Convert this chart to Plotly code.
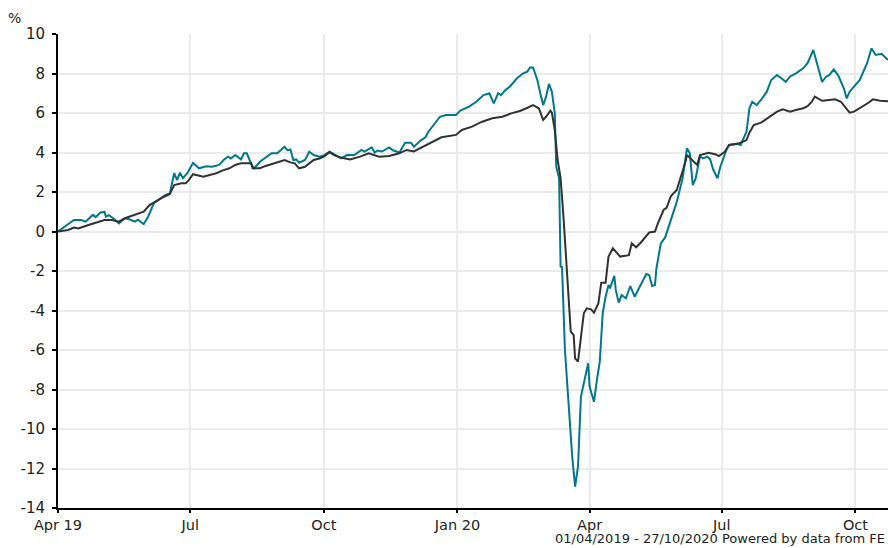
import plotly.graph_objects as go

# Teal series (fund) - cumulative % change
teal_dates = [
    "2019-04-01", "2019-04-12", "2019-04-17", "2019-04-20", "2019-04-25", "2019-04-27", "2019-04-30",
    "2019-05-03", "2019-05-04", "2019-05-06", "2019-05-09", "2019-05-13", "2019-05-17", "2019-05-20",
    "2019-05-24", "2019-05-26", "2019-05-30", "2019-06-02", "2019-06-06", "2019-06-11", "2019-06-14",
    "2019-06-17", "2019-06-20", "2019-06-22", "2019-06-24", "2019-06-26", "2019-06-29", "2019-07-03",
    "2019-07-07", "2019-07-12", "2019-07-16", "2019-07-21", "2019-07-24", "2019-07-27", "2019-07-29",
    "2019-08-01", "2019-08-05", "2019-08-07", "2019-08-09", "2019-08-12", "2019-08-14", "2019-08-18",
    "2019-08-21", "2019-08-26", "2019-08-30", "2019-09-04", "2019-09-06", "2019-09-08", "2019-09-10",
    "2019-09-12", "2019-09-14", "2019-09-18", "2019-09-21", "2019-09-24", "2019-09-28", "2019-10-01",
    "2019-10-05", "2019-10-09", "2019-10-13", "2019-10-17", "2019-10-22", "2019-10-27", "2019-10-29",
    "2019-11-03", "2019-11-05", "2019-11-07", "2019-11-10", "2019-11-15", "2019-11-18", "2019-11-22",
    "2019-11-26", "2019-11-30", "2019-12-02", "2019-12-07", "2019-12-10", "2019-12-12", "2019-12-17",
    "2019-12-20", "2019-12-24", "2019-12-31", "2020-01-03", "2020-01-09", "2020-01-14", "2020-01-19",
    "2020-01-23", "2020-01-25", "2020-01-26", "2020-01-29", "2020-01-31", "2020-02-03", "2020-02-06",
    "2020-02-11", "2020-02-15", "2020-02-18", "2020-02-20", "2020-02-22", "2020-02-25", "2020-02-27",
    "2020-02-29", "2020-03-02", "2020-03-04", "2020-03-06", "2020-03-08", "2020-03-09", "2020-03-11",
    "2020-03-12", "2020-03-13", "2020-03-15", "2020-03-19", "2020-03-20", "2020-03-22", "2020-03-24",
    "2020-03-26", "2020-03-28", "2020-03-31", "2020-04-01", "2020-04-04", "2020-04-06", "2020-04-08",
    "2020-04-10", "2020-04-12", "2020-04-14", "2020-04-15", "2020-04-18", "2020-04-19", "2020-04-21",
    "2020-04-23", "2020-04-26", "2020-04-29", "2020-05-02", "2020-05-05", "2020-05-07", "2020-05-10",
    "2020-05-12", "2020-05-14", "2020-05-16", "2020-05-17", "2020-05-20", "2020-05-23", "2020-05-27",
    "2020-05-31", "2020-06-04", "2020-06-06", "2020-06-07", "2020-06-09", "2020-06-11", "2020-06-13",
    "2020-06-16", "2020-06-18", "2020-06-21", "2020-06-23", "2020-06-25", "2020-06-28", "2020-06-30",
    "2020-07-04", "2020-07-06", "2020-07-12", "2020-07-14", "2020-07-18", "2020-07-20", "2020-07-22",
    "2020-07-25", "2020-07-28", "2020-08-01", "2020-08-04", "2020-08-08", "2020-08-11", "2020-08-14",
    "2020-08-17", "2020-08-21", "2020-08-26", "2020-08-29", "2020-09-02", "2020-09-05", "2020-09-08",
    "2020-09-11", "2020-09-13", "2020-09-16", "2020-09-19", "2020-09-23", "2020-09-25", "2020-09-27",
    "2020-09-30", "2020-10-04", "2020-10-09", "2020-10-12", "2020-10-15", "2020-10-19", "2020-10-23",
    "2020-10-27",
]
teal_values = [
    0.0, 0.58, 0.58, 0.5, 0.84, 0.73, 0.95,
    1.0, 0.75, 0.83, 0.67, 0.41, 0.67, 0.62,
    0.5, 0.6, 0.38, 0.75, 1.43, 1.68, 1.85,
    1.93, 2.95, 2.6, 2.98, 2.7, 2.95, 3.48,
    3.2, 3.3, 3.28, 3.37, 3.62, 3.79, 3.7,
    3.87, 3.65, 3.96, 3.96, 3.42, 3.2, 3.53,
    3.7, 3.96, 3.96, 4.29, 4.12, 4.15, 3.62,
    3.65, 3.48, 3.62, 4.04, 3.87, 3.79, 3.85,
    4.04, 3.87, 3.7, 3.87, 3.87, 4.13, 4.05,
    4.26, 4.0, 4.1, 4.05, 4.26, 4.1, 4.0,
    4.5, 4.5, 4.29, 4.63, 4.77, 5.05, 5.56,
    5.81, 5.9, 5.9, 6.12, 6.32, 6.57, 6.91,
    7.0, 6.66, 6.49, 7.0, 6.9, 7.16, 7.33,
    7.76, 8.0, 8.09, 8.31, 8.31, 7.67, 7.0,
    6.4, 6.83, 7.47, 7.08, 6.0, 3.28, 2.69,
    -1.78, -1.8, -6.0, -10.81, -11.4, -12.92, -11.9,
    -8.36, -7.69, -6.67, -7.86, -8.62, -7.52, -6.59,
    -4.14, -3.3, -2.71, -2.88, -2.25, -2.96, -3.6,
    -3.22, -3.38, -2.76, -3.3, -2.88, -2.62, -2.15,
    -2.2, -2.76, -2.71, -1.86, -0.6, -0.3, 0.6,
    1.5, 2.69, 3.62, 4.21, 3.96, 2.35, 2.69,
    3.82, 3.7, 3.79, 3.65, 3.15, 2.69, 3.28,
    4.1, 4.38, 4.43, 4.38, 5.05, 6.24, 6.57,
    6.4, 6.66, 7.08, 7.67, 7.92, 7.76, 7.58,
    7.85, 8.01, 8.26, 8.52, 9.19, 8.35, 7.58,
    7.85, 7.92, 8.21, 7.92, 7.25, 6.74, 7.08,
    7.33, 7.67, 8.52, 9.27, 8.94, 9.0, 8.72,
    8.6,
]

# Dark grey series (sector/benchmark)
dark_dates = [
    "2019-04-01", "2019-04-08", "2019-04-12", "2019-04-15", "2019-04-22", "2019-04-29", "2019-05-03",
    "2019-05-08", "2019-05-13", "2019-05-17", "2019-05-24", "2019-05-30", "2019-06-03", "2019-06-09",
    "2019-06-13", "2019-06-17", "2019-06-20", "2019-06-25", "2019-06-28", "2019-06-30", "2019-07-03",
    "2019-07-10", "2019-07-14", "2019-07-19", "2019-07-23", "2019-07-28", "2019-08-01", "2019-08-05",
    "2019-08-08", "2019-08-12", "2019-08-13", "2019-08-18", "2019-08-22", "2019-08-27", "2019-08-31",
    "2019-09-04", "2019-09-08", "2019-09-11", "2019-09-14", "2019-09-18", "2019-09-21", "2019-09-24",
    "2019-09-28", "2019-10-01", "2019-10-05", "2019-10-08", "2019-10-12", "2019-10-19", "2019-10-26",
    "2019-11-01", "2019-11-08", "2019-11-15", "2019-11-22", "2019-11-27", "2019-12-02", "2019-12-08",
    "2019-12-15", "2019-12-21", "2019-12-31", "2020-01-04", "2020-01-11", "2020-01-18", "2020-01-25",
    "2020-02-01", "2020-02-07", "2020-02-13", "2020-02-19", "2020-02-22", "2020-02-26", "2020-02-29",
    "2020-03-02", "2020-03-05", "2020-03-06", "2020-03-08", "2020-03-10", "2020-03-12", "2020-03-14",
    "2020-03-16", "2020-03-19", "2020-03-21", "2020-03-22", "2020-03-24", "2020-03-26", "2020-03-28",
    "2020-03-30", "2020-04-02", "2020-04-04", "2020-04-07", "2020-04-09", "2020-04-12", "2020-04-14",
    "2020-04-17", "2020-04-22", "2020-04-28", "2020-04-30", "2020-05-03", "2020-05-06", "2020-05-12",
    "2020-05-16", "2020-05-18", "2020-05-22", "2020-05-24", "2020-05-26", "2020-05-27", "2020-05-31",
    "2020-06-03", "2020-06-06", "2020-06-07", "2020-06-11", "2020-06-14", "2020-06-16", "2020-06-22",
    "2020-06-27", "2020-06-29", "2020-07-03", "2020-07-06", "2020-07-13", "2020-07-18", "2020-07-20",
    "2020-07-23", "2020-07-28", "2020-08-02", "2020-08-08", "2020-08-12", "2020-08-17", "2020-08-21",
    "2020-08-26", "2020-08-29", "2020-09-01", "2020-09-03", "2020-09-06", "2020-09-08", "2020-09-13",
    "2020-09-17", "2020-09-21", "2020-09-25", "2020-09-27", "2020-09-30", "2020-10-05", "2020-10-10",
    "2020-10-13", "2020-10-18", "2020-10-23", "2020-10-27",
]
dark_values = [
    0.0, 0.08, 0.2, 0.15, 0.33, 0.5, 0.58,
    0.58, 0.5, 0.67, 0.84, 1.0, 1.34, 1.6,
    1.76, 1.9, 2.35, 2.44, 2.44, 2.6, 2.9,
    2.77, 2.86, 2.95, 3.08, 3.2, 3.37, 3.45,
    3.45, 3.45, 3.2, 3.2, 3.32, 3.45, 3.53,
    3.62, 3.5, 3.45, 3.2, 3.28, 3.45, 3.62,
    3.7, 3.79, 4.02, 3.87, 3.76, 3.65, 3.79,
    3.96, 3.79, 3.82, 3.96, 4.13, 4.05, 4.29,
    4.55, 4.77, 4.89, 5.14, 5.31, 5.56, 5.73,
    5.81, 5.98, 6.1, 6.29, 6.4, 6.24, 5.65,
    5.81, 6.12, 6.02, 5.14, 3.62, 2.7, 0.75,
    -1.44, -5.07, -5.24, -6.42, -6.59, -5.33, -4.14,
    -3.89, -3.94, -4.11, -3.64, -2.6, -2.6, -1.27,
    -0.85, -1.27, -1.2, -0.6, -0.8, -0.58, -0.05,
    0.0, 0.41, 1.1, 1.2, 1.6, 1.8, 2.1,
    2.77, 3.53, 3.87, 3.58, 3.37, 3.87, 3.99,
    3.9, 3.82, 4.04, 4.38, 4.47, 4.63, 5.0,
    5.39, 5.51, 5.78, 6.07, 6.19, 6.07, 6.15,
    6.24, 6.35, 6.57, 6.83, 6.69, 6.62, 6.66,
    6.69, 6.57, 6.24, 6.02, 6.07, 6.29, 6.52,
    6.69, 6.62, 6.6, 6.58,
]

tick_dates = ["2019-04-01", "2019-07-01", "2019-10-01", "2020-01-01",
              "2020-04-01", "2020-07-01", "2020-10-01"]
tick_labels = ["Apr 19", "Jul", "Oct", "Jan 20", "Apr", "Jul", "Oct"]

y_ticks = list(range(-14, 11, 2))

FONT = "DejaVu Sans, Verdana, sans-serif"

fig = go.Figure()
fig.add_trace(go.Scatter(x=teal_dates, y=teal_values, mode="lines",
                         line=dict(color="#00788c", width=2), showlegend=False))
fig.add_trace(go.Scatter(x=dark_dates, y=dark_values, mode="lines",
                         line=dict(color="#2f3332", width=2), showlegend=False))

fig.update_layout(
    width=888, height=548,
    margin=dict(l=58, r=0, t=34, b=40, autoexpand=False),
    paper_bgcolor="white", plot_bgcolor="white",
    font=dict(family=FONT, size=15, color="#222222"),
    xaxis=dict(
        type="date", automargin=False,
        range=["2019-04-01", "2020-10-23 10:00"],
        tickvals=tick_dates, ticktext=tick_labels,
        tickfont=dict(family=FONT, size=14.5, color="#222222"),
        showgrid=True, gridcolor="#ebebeb", gridwidth=2,
        showline=True, linecolor="black", linewidth=2,
        ticks="outside", ticklen=3, tickcolor="black", tickwidth=2,
        zeroline=False,
    ),
    yaxis=dict(
        range=[-14, 10], automargin=False,
        tickvals=y_ticks,
        ticktext=[str(v) for v in y_ticks],
        tickfont=dict(family=FONT, size=15, color="#222222"),
        ticklabelstandoff=4,
        showgrid=True, gridcolor="#ebebeb", gridwidth=2,
        showline=True, linecolor="black", linewidth=2,
        ticks="outside", ticklen=4, tickcolor="black", tickwidth=2,
        zeroline=False,
    ),
    annotations=[
        dict(text="%", xref="paper", yref="paper", x=-0.052, y=1.034,
             xanchor="center", yanchor="middle", showarrow=False,
             font=dict(family=FONT, size=14, color="#222222")),
        dict(text="01/04/2019 - 27/10/2020 Powered by data from FE",
             xref="paper", yref="paper", x=(553 - 58) / 830, y=-(548 - 508) / 474,
             xanchor="left", yanchor="bottom", showarrow=False,
             font=dict(family=FONT, size=13, color="#222222")),
    ],
)

# Remove the browser's default body margin so the figure fills the window exactly.
fig.write_html(
    "out.html",
    config={"displayModeBar": False},
    post_script="document.body.style.margin='0';document.body.style.overflow='hidden';",
)
